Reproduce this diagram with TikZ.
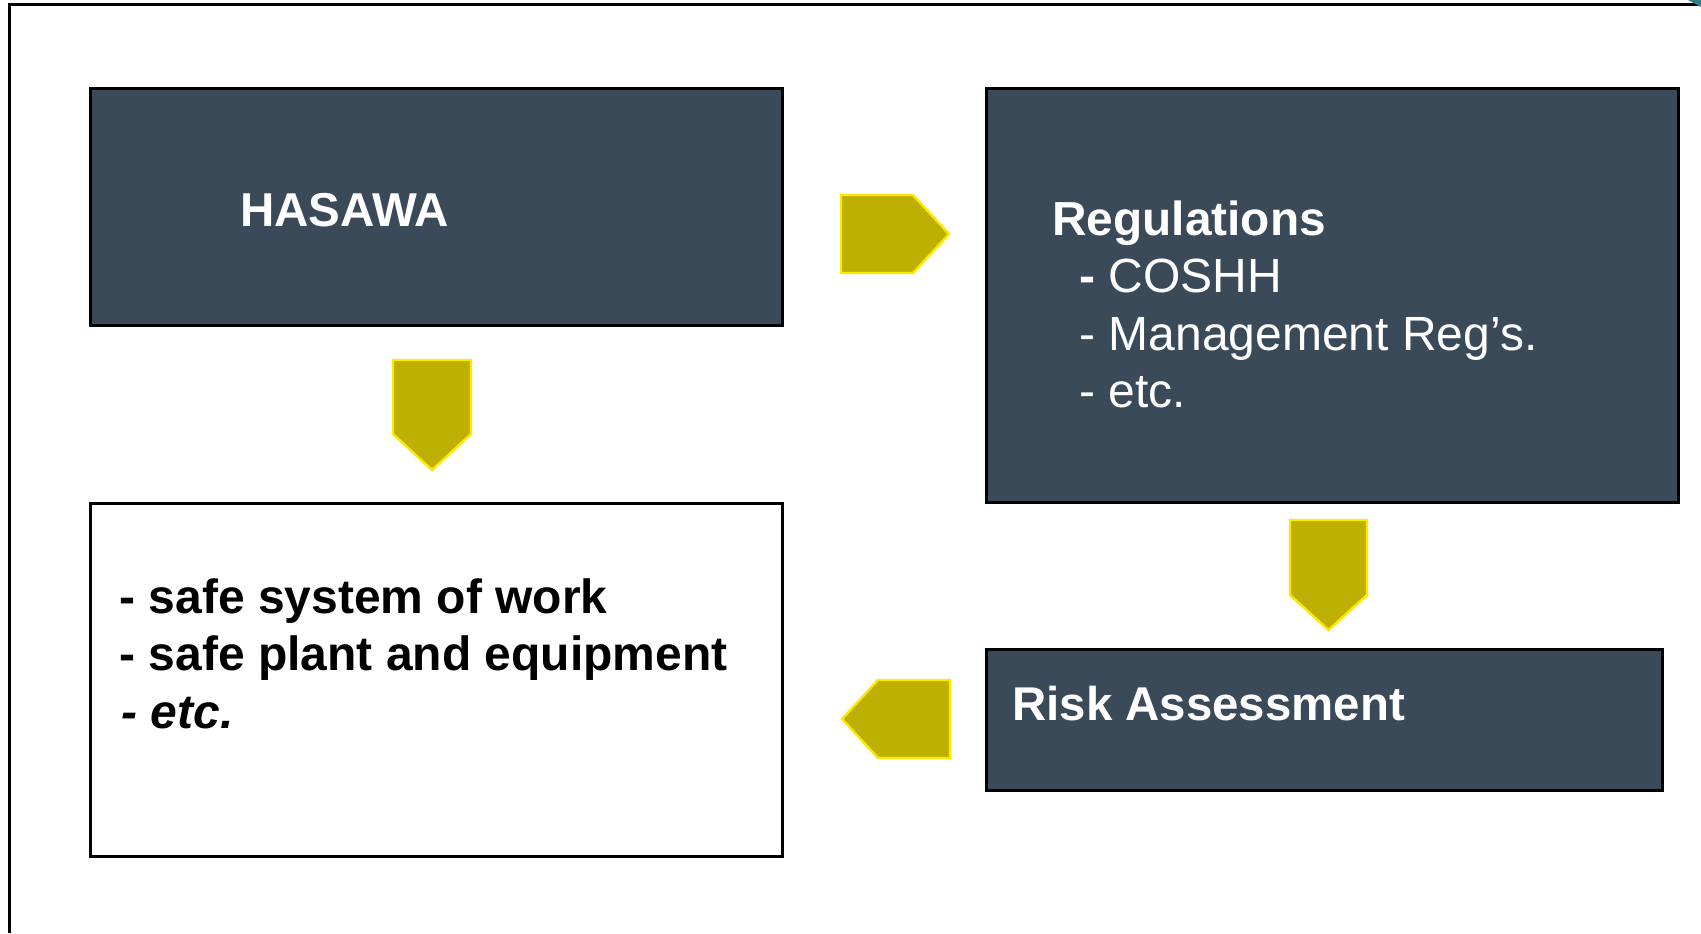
\documentclass[tikz,border=0pt]{standalone}
\usepackage{fontspec}
\setmainfont{Liberation Sans}
\usetikzlibrary{fit}
\definecolor{slate}{HTML}{3A4A59}
\definecolor{olive}{HTML}{BDB000}
\definecolor{yel}{HTML}{FFE800}
\definecolor{teal}{HTML}{2F7F86}
\tikzset{
  darkbox/.style={draw=black,line width=1.5bp,fill=slate,inner sep=0pt},
  whitebox/.style={draw=black,line width=1.5bp,fill=white,inner sep=0pt},
  blockarrow/.style={draw=yel,fill=olive,line width=1.2bp,line join=miter},
  wtext/.style={text=white,anchor=base west,inner sep=0pt},
  btext/.style={text=black,anchor=base west,inner sep=0pt},
}
\begin{document}
\begin{tikzpicture}[x=0.5bp,y=-0.5bp]
\useasboundingbox (0,0) rectangle (1701,933);
% outer frame
\draw[line width=1.3bp,black] (9.5,933) -- (9.5,4.5) -- (1701,4.5);
\fill[teal] (1688,0) -- (1701,0) -- (1701,7) -- cycle;
% boxes
\node[darkbox,fit={(90,88) (782,325)}] (hasawa) {};
\node[darkbox,fit={(986,88) (1678,502)}] (regs) {};
\node[whitebox,fit={(90,503) (782,856)}] (duties) {};
\node[darkbox,fit={(986,649) (1662,790)}] (risk) {};
% texts
\node[wtext,font=\bfseries\fontsize{23.75bp}{28bp}\selectfont] (t1) at (240,226) {HASAWA};
\node[wtext,font=\bfseries\fontsize{23.9bp}{28bp}\selectfont] (t2) at (1052,235) {Regulations};
\node[wtext,font=\fontsize{24bp}{28bp}\selectfont] (t3) at (1079,292) {\textbf{-} COSHH};
\node[wtext,font=\fontsize{24bp}{28bp}\selectfont] (t4) at (1079,350) {- Management Reg’s.};
\node[wtext,font=\fontsize{24bp}{28bp}\selectfont] (t5) at (1079,407) {- etc.};
\node[wtext,font=\bfseries\fontsize{23.7bp}{28bp}\selectfont] (t6) at (1012,720) {Risk Assessment};
\node[btext,font=\bfseries\fontsize{24bp}{28bp}\selectfont] (t7) at (119,613) {- safe system of work};
\node[btext,font=\bfseries\fontsize{24bp}{28bp}\selectfont] (t8) at (119,670) {- safe plant and equipment};
\node[btext,font=\bfseries\itshape\fontsize{24bp}{28bp}\selectfont] (t9) at (121,728) {- etc.};
% block arrows
\coordinate (a1) at (841,195);
\draw[blockarrow] (a1) -- ++(72,0) -- ++(36,39) -- ++(-36,39) -- ++(-72,0) -- cycle;
\coordinate (a2) at (393,360);
\draw[blockarrow] (a2) -- ++(78,0) -- ++(0,74) -- ++(-39,36) -- ++(-39,-36) -- cycle;
\coordinate (a3) at (1290,520);
\draw[blockarrow] (a3) -- ++(77,0) -- ++(0,75) -- ++(-38.5,35) -- ++(-38.5,-35) -- cycle;
\coordinate (a4) at (950,680);
\draw[blockarrow] (a4) -- ++(0,78) -- ++(-72,0) -- ++(-36,-39) -- ++(36,-39) -- cycle;
\end{tikzpicture}
\end{document}
